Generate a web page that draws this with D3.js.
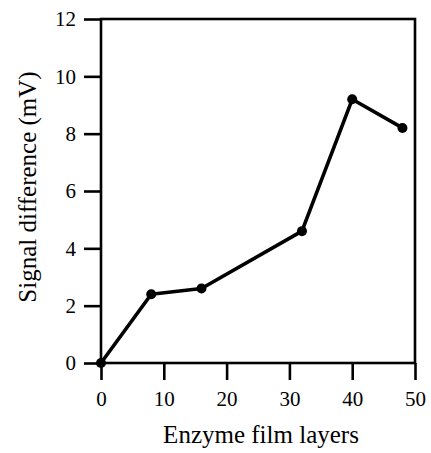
<!DOCTYPE html>
<html>
<head>
<meta charset="utf-8">
<script src="https://cdn.jsdelivr.net/npm/d3@7"></script>
<style>
  body { margin: 0; background: #fff; }
  svg text { font-family: "Liberation Serif", "Times New Roman", serif !important; fill: #000; }
</style>
</head>
<body>
<svg id="chart" width="431" height="453"></svg>
<script>
// data
const layers = [0, 8, 16, 32, 40, 48];
const signal = [0, 2.4, 2.6, 4.6, 9.2, 8.2];
const xTicks = [0, 10, 20, 30, 40, 50];
const yTicks = [0, 2, 4, 6, 8, 10, 12];

const margin = { top: 19, right: 16, bottom: 90, left: 101 };
const width = 431, height = 453;
const serif = "'Liberation Serif', 'Times New Roman', serif";

const svg = d3.select("#chart");

const x = d3.scaleLinear().domain([0, 50]).range([margin.left, width - margin.right]);
const y = d3.scaleLinear().domain([0, 12]).range([height - margin.bottom, margin.top]);

// frame
svg.append("rect")
    .attr("x", x(0))
    .attr("y", y(12))
    .attr("width", x(50) - x(0))
    .attr("height", y(0) - y(12))
    .attr("fill", "none")
    .attr("stroke", "#000")
    .attr("stroke-width", 2.6);

// x axis
const xAxis = svg.append("g")
    .attr("transform", `translate(0,${y(0)})`)
    .call(d3.axisBottom(x).tickValues(xTicks).tickSize(17).tickPadding(11).tickFormat(d3.format("d")))
    .attr("font-family", serif);
xAxis.select(".domain").remove();
xAxis.selectAll("line").attr("stroke", "#000").attr("stroke-width", 2.6);
xAxis.selectAll("text").style("font-size", "21px");

// y axis
const yAxis = svg.append("g")
    .attr("transform", `translate(${x(0)},0)`)
    .call(d3.axisLeft(y).tickValues(yTicks).tickSize(17).tickPadding(8).tickFormat(d3.format("d")))
    .attr("font-family", serif);
yAxis.select(".domain").remove();
yAxis.selectAll("line").attr("stroke", "#000").attr("stroke-width", 2.6);
yAxis.selectAll("text").style("font-size", "21px");

// data line
const points = layers.map((d, i) => ({ x: d, y: signal[i] }));
const line = d3.line().x(d => x(d.x)).y(d => y(d.y));

svg.append("path")
    .datum(points)
    .attr("d", line)
    .attr("fill", "none")
    .attr("stroke", "#000")
    .attr("stroke-width", 3.6)
    .attr("stroke-linejoin", "round");

svg.selectAll("circle.pt")
    .data(points)
    .enter().append("circle")
    .attr("class", "pt")
    .attr("cx", d => x(d.x))
    .attr("cy", d => y(d.y))
    .attr("r", 5)
    .attr("fill", "#000");

// axis titles
svg.append("text")
    .attr("x", (x(0) + x(50)) / 2 + 3)
    .attr("y", 443)
    .attr("text-anchor", "middle")
    .style("font-size", "25px")
    .text("Enzyme film layers");

svg.append("text")
    .attr("transform", `translate(36,${(y(0) + y(12)) / 2 - 4}) rotate(-90)`)
    .attr("text-anchor", "middle")
    .style("font-size", "25px")
    .text("Signal difference (mV)");
</script>
</body>
</html>
